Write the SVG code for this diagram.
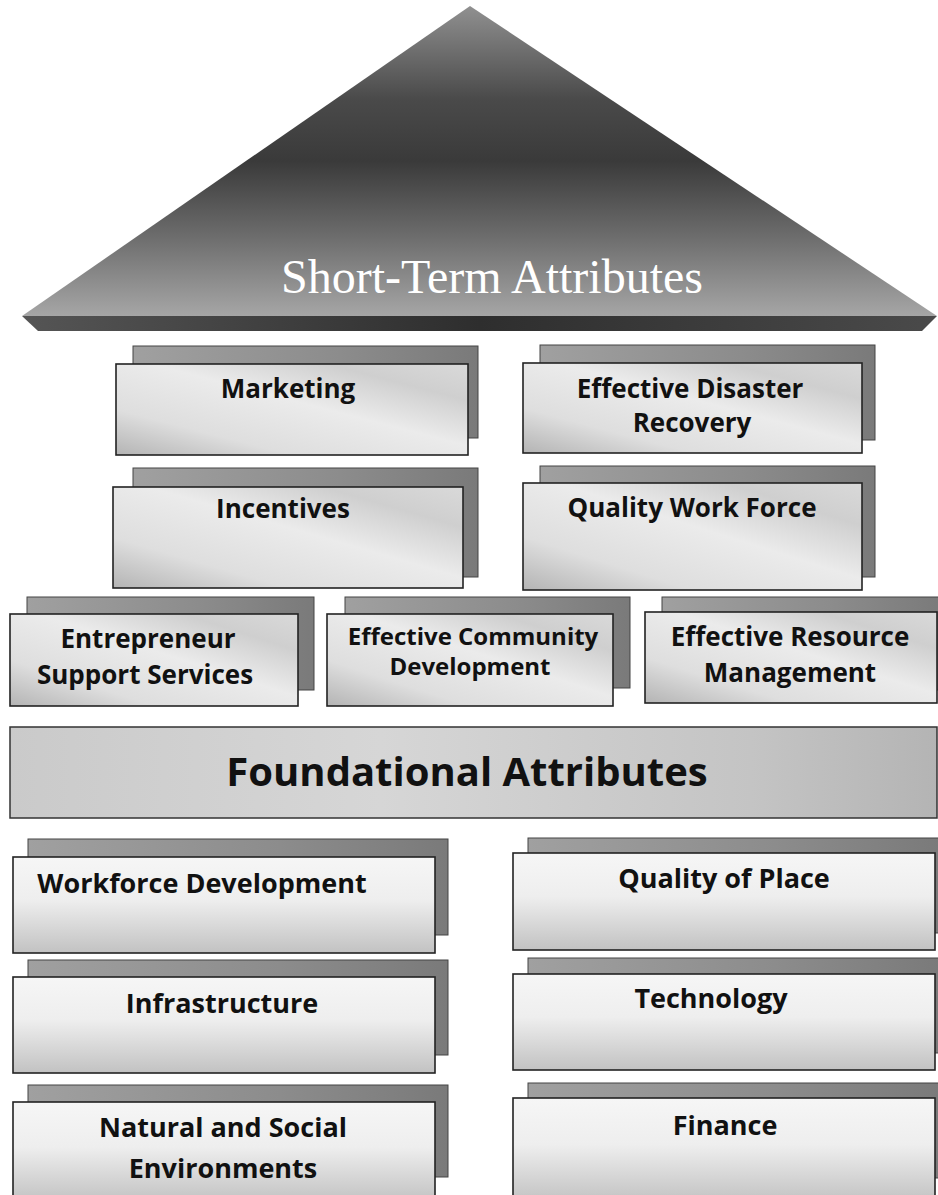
<svg xmlns="http://www.w3.org/2000/svg" width="938" height="1195" viewBox="0 0 938 1195">
<defs>
<linearGradient id="pyr" x1="0" y1="0" x2="0" y2="1">
<stop offset="0" stop-color="#909090"/>
<stop offset="0.3" stop-color="#4a4a4a"/>
<stop offset="0.5" stop-color="#3a3a3a"/>
<stop offset="0.75" stop-color="#6e6e6e"/>
<stop offset="1" stop-color="#a6a6a6"/>
</linearGradient>
<linearGradient id="pyrBase" x1="0" y1="0" x2="1" y2="0">
<stop offset="0" stop-color="#555"/>
<stop offset="0.5" stop-color="#2e2e2e"/>
<stop offset="1" stop-color="#4a4a4a"/>
</linearGradient>
<linearGradient id="front" x1="0" y1="1" x2="1" y2="0">
<stop offset="0" stop-color="#b4b4b4"/>
<stop offset="0.25" stop-color="#dedede"/>
<stop offset="0.55" stop-color="#ebebeb"/>
<stop offset="0.8" stop-color="#cfcfcf"/>
<stop offset="1" stop-color="#d9d9d9"/>
</linearGradient>
<linearGradient id="back" x1="0" y1="0" x2="1" y2="0">
<stop offset="0" stop-color="#a0a0a0"/>
<stop offset="0.6" stop-color="#8c8c8c"/>
<stop offset="1" stop-color="#7a7a7a"/>
</linearGradient>
<linearGradient id="low" x1="0" y1="0" x2="0" y2="1">
<stop offset="0" stop-color="#f6f6f6"/>
<stop offset="0.45" stop-color="#eeeeee"/>
<stop offset="1" stop-color="#c2c2c2"/>
</linearGradient>
<linearGradient id="found" x1="0" y1="0" x2="1" y2="0">
<stop offset="0" stop-color="#cacaca"/>
<stop offset="0.4" stop-color="#d6d6d6"/>
<stop offset="0.8" stop-color="#c4c4c4"/>
<stop offset="1" stop-color="#b4b4b4"/>
</linearGradient>
</defs>
<style>
.back{fill:url(#back);stroke:#444;stroke-width:1}
.front{fill:url(#front);stroke:#222;stroke-width:1.6}
.low{fill:url(#low);stroke:#222;stroke-width:1.6}
.lbl{font-family:"Open Sans","Noto Sans","Liberation Sans",sans-serif;font-weight:bold;font-size:26px;fill:#111;text-anchor:middle}
.lbl3{font-family:"Open Sans","Noto Sans","Liberation Sans",sans-serif;font-weight:bold;font-size:24px;fill:#111;text-anchor:middle}
.lblb{font-family:"Open Sans","Noto Sans","Liberation Sans",sans-serif;font-weight:bold;font-size:27px;fill:#111;text-anchor:middle}
.title{font-family:"Liberation Serif","Times New Roman",serif;font-size:48px;fill:#fff;text-anchor:middle}
.big{font-family:"Open Sans","Noto Sans","Liberation Sans",sans-serif;font-weight:bold;font-size:40px;fill:#111;text-anchor:middle}
</style>

<g id="short-term-attributes">
<polygon points="470,6 937,316 22,316" fill="url(#pyr)"/>
<polygon points="22,316 937,316 922,331 38,331" fill="url(#pyrBase)"/>
<text class="title" x="492" y="293">Short-Term Attributes</text>
</g>

<g id="marketing">
<rect class="back" x="133" y="346" width="345" height="92"/>
<rect class="front" x="116" y="364" width="352" height="91"/>
<text class="lbl" x="288" y="398">Marketing</text>
</g>

<g id="effective-disaster-recovery">
<rect class="back" x="540" y="345" width="335" height="95"/>
<rect class="front" x="523" y="363" width="339" height="90"/>
<text class="lbl" x="690" y="398">Effective Disaster</text>
<text class="lbl" x="692" y="432">Recovery</text>
</g>

<g id="incentives">
<rect class="back" x="133" y="468" width="345" height="109"/>
<rect class="front" x="113" y="487" width="350" height="101"/>
<text class="lbl" x="283" y="518">Incentives</text>
</g>

<g id="quality-work-force">
<rect class="back" x="540" y="466" width="335" height="111"/>
<rect class="front" x="523" y="483" width="339" height="107"/>
<text class="lbl" x="692" y="517">Quality Work Force</text>
</g>

<g id="entrepreneur-support-services">
<rect class="back" x="27" y="597" width="287" height="93"/>
<rect class="front" x="10" y="614" width="288" height="92"/>
<text class="lbl" x="148" y="648">Entrepreneur</text>
<text class="lbl" x="145" y="684">Support Services</text>
</g>

<g id="effective-community-development">
<rect class="back" x="345" y="597" width="285" height="91"/>
<rect class="front" x="327" y="614" width="286" height="92"/>
<text class="lbl3" x="473" y="645">Effective Community</text>
<text class="lbl3" x="470" y="675">Development</text>
</g>

<g id="effective-resource-management">
<rect class="back" x="662" y="597" width="280" height="93"/>
<rect class="front" x="645" y="612" width="292" height="91"/>
<text class="lbl" x="790" y="646">Effective Resource</text>
<text class="lbl" x="790" y="682">Management</text>
</g>

<g id="foundational-attributes">
<rect x="10" y="727" width="927" height="91" fill="url(#found)" stroke="#333" stroke-width="1.5"/>
<text class="big" x="467" y="786">Foundational Attributes</text>
</g>

<g id="workforce-development">
<rect class="back" x="28" y="839" width="420" height="96"/>
<rect class="low" x="13" y="857" width="422" height="96"/>
<text class="lblb" x="202" y="893">Workforce Development</text>
</g>

<g id="quality-of-place">
<rect class="back" x="528" y="838" width="412" height="95"/>
<rect class="low" x="513" y="853" width="422" height="97"/>
<text class="lblb" x="724" y="888">Quality of Place</text>
</g>

<g id="infrastructure">
<rect class="back" x="28" y="960" width="420" height="95"/>
<rect class="low" x="13" y="977" width="422" height="96"/>
<text class="lblb" x="222" y="1013">Infrastructure</text>
</g>

<g id="technology">
<rect class="back" x="528" y="958" width="412" height="95"/>
<rect class="low" x="513" y="974" width="422" height="96"/>
<text class="lblb" x="711" y="1008">Technology</text>
</g>

<g id="natural-and-social-environments">
<rect class="back" x="28" y="1085" width="420" height="92"/>
<rect class="low" x="13" y="1102" width="422" height="100"/>
<text class="lblb" x="223" y="1137">Natural and Social</text>
<text class="lblb" x="223" y="1178">Environments</text>
</g>

<g id="finance">
<rect class="back" x="528" y="1083" width="412" height="95"/>
<rect class="low" x="513" y="1098" width="422" height="104"/>
<text class="lblb" x="725" y="1135">Finance</text>
</g>

<g id="connectors"></g>
</svg>
